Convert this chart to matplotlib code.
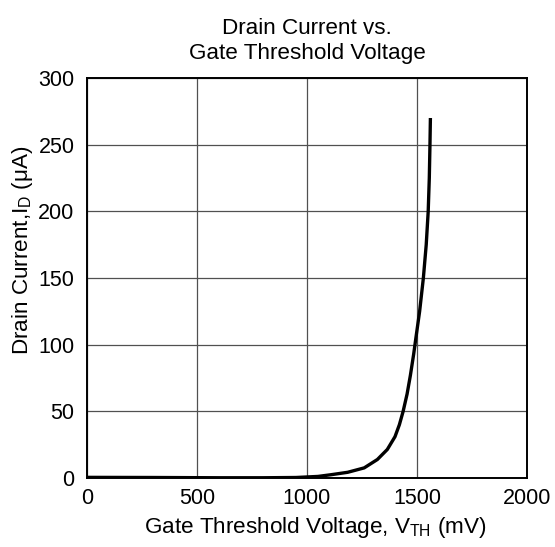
import numpy as np
import matplotlib
matplotlib.use('Agg')
import matplotlib.pyplot as plt

plt.rcParams['font.family'] = ['Liberation Sans', 'DejaVu Sans']
plt.rcParams['mathtext.fontset'] = 'custom'
plt.rcParams['mathtext.rm'] = 'Liberation Sans'
plt.rcParams['mathtext.it'] = 'Liberation Sans'

# gate threshold voltage (mV) vs drain current (uA)
vth = [0, 300, 600, 800, 950, 1050, 1110, 1185, 1260, 1320, 1365, 1400,
       1420, 1437, 1455, 1470, 1485, 1495, 1512, 1529, 1542, 1551,
       1556, 1559, 1561]
i_d = [0.5, 0.4, 0.2, 0.2, 0.4, 1.2, 2.5, 4.3, 7.6, 13.9, 21.4, 31,
       40, 50, 63, 77, 93, 105, 125, 150, 175, 200,
       225, 250, 270]

x_ticks = [0, 500, 1000, 1500, 2000]
y_ticks = [0, 50, 100, 150, 200, 250, 300]

fig = plt.figure(figsize=(5.55, 5.47), dpi=100)
ax = fig.add_axes([0.1568, 0.1261, 0.7927, 0.7313])

ax.plot(vth, i_d, color='black', lw=2.4, solid_capstyle='butt',
        solid_joinstyle='round', zorder=3)

ax.set_xlim(0, 2000)
ax.set_ylim(0, 300)
ax.set_xticks(x_ticks)
ax.set_yticks(y_ticks)
ax.grid(True, color='#505050', lw=0.9)
ax.tick_params(length=0, labelsize=15.5)
ax.tick_params(axis='x', pad=7)
ax.tick_params(axis='y', pad=9)
for s in ax.spines.values():
    s.set_linewidth(1.4)

ax.set_title('Drain Current vs.\nGate Threshold Voltage', fontsize=16.2, pad=14, linespacing=1.25)
ax.set_xlabel(r'Gate Threshold Voltage, V$_{\mathrm{TH}}$ (mV)', fontsize=16.2)
ax.set_ylabel(r'Drain Current,I$_{\mathrm{D}}$ (μA)', fontsize=16.2)
ax.xaxis.set_label_coords(0.518, -0.093)
ax.yaxis.set_label_coords(-0.118, 0.57)

fig.savefig('out.png', dpi=100)
